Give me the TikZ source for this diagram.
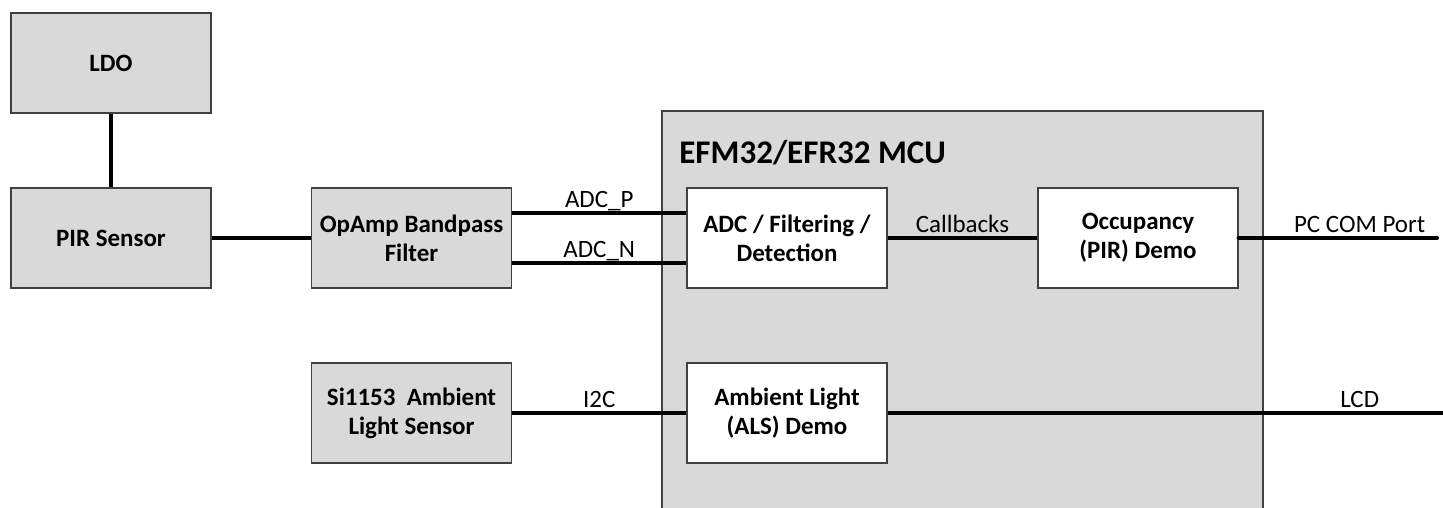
\documentclass[tikz,border=0pt]{standalone}
\usepackage{fontspec}
\setmainfont{Carlito}
\definecolor{boxgray}{HTML}{D9D9D9}
\definecolor{edgegray}{HTML}{404040}

\begin{document}
\begin{tikzpicture}[
		block/.style={draw=edgegray, line width=0.6pt, fill=boxgray, minimum width=4cm, minimum height=2cm, align=center, inner sep=2pt, font=\fontsize{14.2}{16.5}\selectfont\bfseries},
		inner block/.style={block, fill=white},
		wire/.style={line width=2.3pt},
		wire label/.style={anchor=base, yshift=0.1cm, inner sep=0pt, font=\fontsize{14.2}{16.5}\selectfont}
	]
	\useasboundingbox (0,0) rectangle (28.86,10.16);

	% MCU
	\node[draw=edgegray, line width=0.6pt, fill=boxgray, minimum width=12.02cm, minimum height=8.44cm] (mcu) at (19.25,3.72) {};
	\node[anchor=base west, inner sep=0pt, font=\fontsize{18.8}{22}\selectfont\bfseries] (mcutitle) at (13.58,6.88) {EFM32/EFR32 MCU};

	% Blocks
	\node[block] (ldo) at (2.22,8.9) {LDO};
	\node[block] (pir) at (2.22,5.4) {PIR Sensor};
	\node[block] (opamp) at (8.23,5.4) {OpAmp Bandpass\\Filter};
	\node[block] (si) at (8.23,1.9) {Si1153~ Ambient\\Light Sensor};
	\node[inner block] (adc) at (15.74,5.4) {ADC / Filtering /\\Detection};
	\node[inner block] (occ) at (22.76,5.4) {Occupancy\\(PIR) Demo};
	\node[inner block] (als) at (15.74,1.9) {Ambient Light\\(ALS) Demo};

	% Free ends
	\coordinate (pcport) at (28.74,5.4);
	\coordinate (lcd) at (28.86,1.9);

	% Connections
	\draw[wire] (ldo) -- (pir);
	\draw[wire] (pir) -- (opamp);
	\draw[wire] ([yshift=0.5cm]opamp.east) -- node[wire label] {ADC\_P} ([yshift=0.5cm]adc.west);
	\draw[wire] ([yshift=-0.5cm]opamp.east) -- node[wire label] {ADC\_N} ([yshift=-0.5cm]adc.west);
	\draw[wire] (adc) -- node[wire label] {Callbacks} (occ);
	\draw[wire, line cap=round] (occ) -- node[wire label, pos=0.61] {PC COM Port} (pcport);
	\draw[wire] (si) -- node[wire label] {I2C} (als);
	\draw[wire] (als) -- node[wire label, pos=0.85] {LCD} (lcd);
\end{tikzpicture}
\end{document}
